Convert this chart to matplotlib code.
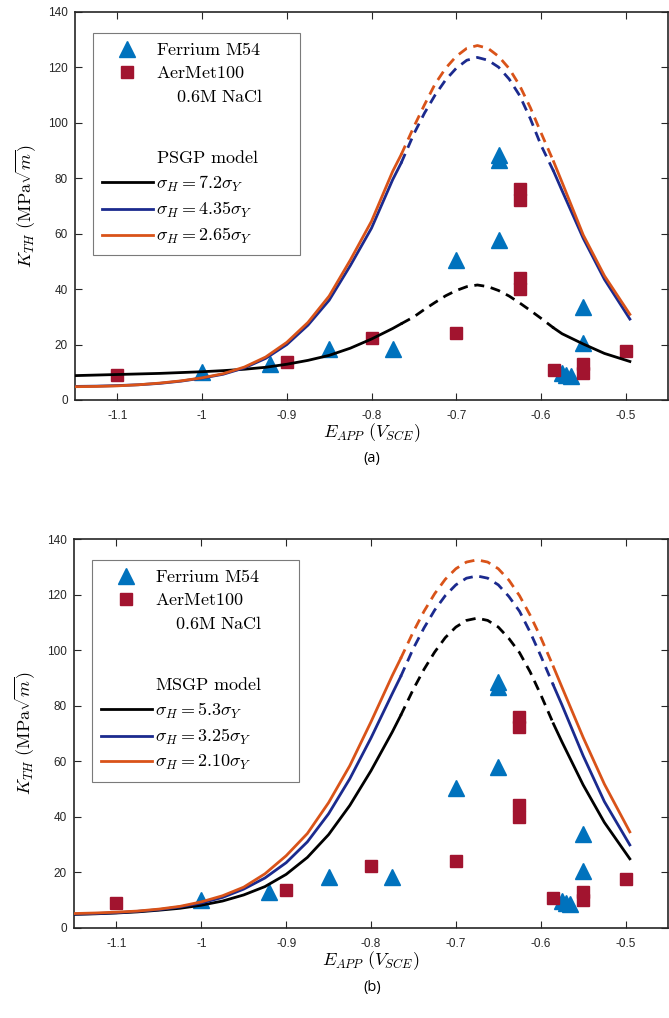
import matplotlib.pyplot as plt
from matplotlib.lines import Line2D
import numpy as np

plt.rcParams['mathtext.fontset'] = 'cm'
plt.rcParams['axes.unicode_minus'] = False
plt.rcParams['font.family'] = 'Liberation Sans'

# applied potential (V_SCE) where the model curves were read
E_model = [-1.15, -1.125, -1.1, -1.075, -1.05, -1.025, -1.0, -0.975, -0.95, -0.925,
           -0.9, -0.875, -0.85, -0.825, -0.8, -0.775, -0.765,
           -0.75, -0.7375, -0.725, -0.7125, -0.7, -0.6875, -0.675, -0.6625, -0.65,
           -0.6375, -0.625, -0.6125, -0.6, -0.585, -0.575, -0.55, -0.525, -0.495]

# PSGP model (panel a)
psgp_72 = [8.8, 9.0, 9.2, 9.4, 9.6, 9.9, 10.2, 10.6, 11.1, 11.8,
           12.9, 14.3, 16.1, 18.7, 22.0, 25.8, 27.5,
           30.0, 32.7, 35.2, 37.6, 39.5, 40.9, 41.5, 40.9, 39.5,
           37.5, 35.0, 32.3, 29.5, 26.0, 23.9, 20.2, 16.8, 13.9]
psgp_435 = [4.9, 5.0, 5.2, 5.5, 6.0, 6.8, 7.9, 9.3, 11.6, 15.0,
            20.0, 27.0, 36.0, 48.5, 62.0, 79.5, 85.5,
            96.0, 103.5, 110.0, 115.5, 119.7, 122.6, 123.6, 122.6, 120.1,
            115.8, 109.8, 101.5, 92.0, 82.5, 75.5, 58.3, 43.5, 29.2]
psgp_265 = [4.8, 4.9, 5.1, 5.5, 6.1, 6.9, 8.0, 9.5, 11.9, 15.5,
            20.8, 28.0, 37.5, 50.5, 64.5, 82.5, 88.5,
            98.6, 106.5, 114.0, 119.7, 124.0, 126.9, 127.9, 126.9, 124.0,
            119.6, 113.4, 105.5, 96.5, 86.0, 78.5, 59.5, 44.8, 30.9]

# MSGP model (panel b)
msgp_53 = [4.9, 5.1, 5.4, 5.8, 6.4, 7.1, 8.2, 9.7, 11.9, 14.9,
           19.3, 25.4, 33.6, 44.1, 56.6, 70.5, 76.5,
           86.0, 93.1, 99.3, 104.5, 108.3, 110.7, 111.5, 110.7, 108.3,
           104.2, 99.1, 92.2, 84.0, 73.5, 67.0, 51.5, 38.0, 24.9]
msgp_325 = [5.0, 5.2, 5.5, 6.0, 6.6, 7.6, 9.0, 11.0, 14.0, 18.0,
            23.5, 31.0, 41.1, 53.7, 68.4, 84.3, 90.5,
            100.7, 108.0, 114.4, 119.6, 123.5, 125.9, 126.7, 125.9, 123.5,
            119.3, 114.0, 106.5, 98.0, 87.3, 80.3, 62.0, 45.5, 29.9]
msgp_210 = [5.2, 5.4, 5.7, 6.1, 6.8, 7.8, 9.4, 11.6, 14.7, 19.5,
            26.0, 34.0, 45.1, 58.4, 74.2, 90.8, 97.0,
            106.7, 114.0, 120.3, 125.5, 129.3, 131.7, 132.5, 131.7, 129.3,
            125.2, 119.6, 112.6, 104.6, 94.0, 86.7, 68.6, 51.8, 34.6]

# experimental thresholds
ferrium_E = [-1.0, -0.92, -0.85, -0.775, -0.7, -0.65, -0.65, -0.65,
             -0.575, -0.57, -0.565, -0.55, -0.55]
ferrium_K = [10.2, 13.0, 18.3, 18.4, 50.5, 57.8, 86.6, 88.4,
             9.6, 9.0, 8.6, 20.6, 33.7]
aermet_E = [-1.1, -0.9, -0.8, -0.7, -0.625, -0.625, -0.625, -0.625,
            -0.585, -0.55, -0.55, -0.5]
aermet_K = [9.0, 13.8, 22.2, 24.0, 76.0, 72.2, 44.1, 40.0,
            10.8, 12.9, 9.9, 17.8]

xticks = [-1.1, -1.0, -0.9, -0.8, -0.7, -0.6, -0.5]
xticklabels = ['-1.1', '-1', '-0.9', '-0.8', '-0.7', '-0.6', '-0.5']
yticks = [0, 20, 40, 60, 80, 100, 120, 140]

c_black = 'black'
c_blue = '#1b2a8e'
c_orange = '#d95319'
c_tri = '#0072bd'
c_sq = '#a2142f'

E_arr = np.array(E_model)
m_left = E_arr <= -0.765
m_mid = (E_arr >= -0.765) & (E_arr <= -0.585)
m_right = E_arr >= -0.585


def draw_panel(ax, curves, model_name, panel_label, label_y):
    ax.plot(ferrium_E, ferrium_K, '^', color=c_tri, ms=11.5, mec=c_tri, zorder=2)
    ax.plot(aermet_E, aermet_K, 's', color=c_sq, ms=8.6, mec=c_sq, zorder=2)
    handles = [Line2D([], [], ls='', marker='^', color=c_tri, ms=11.5),
               Line2D([], [], ls='', marker='s', color=c_sq, ms=8.6),
               Line2D([], [], ls=''),
               Line2D([], [], ls=''),
               Line2D([], [], ls='')]
    labels = [r'$\mathrm{Ferrium\ M54}$', r'$\mathrm{AerMet100}$',
              r'$\quad\;\mathrm{0.6M\ NaCl}$', r'$\mathrm{Ag}$',
              r'$\mathrm{' + model_name + r'\ model}$']
    for K, col, lab in curves:
        K = np.array(K)
        ax.plot(E_arr[m_left], K[m_left], color=col, lw=2.0, zorder=3)
        ax.plot(E_arr[m_right], K[m_right], color=col, lw=2.0, zorder=3)
        ax.plot(E_arr[m_mid], K[m_mid], color=col, lw=2.0, dashes=(3.6, 2.4), zorder=3)
        handles.append(Line2D([], [], color=col, lw=2.0))
        labels.append(lab)

    ax.set_xlim(-1.15, -0.45)
    ax.set_ylim(0, 140)
    ax.set_xticks(xticks)
    ax.set_xticklabels(xticklabels)
    ax.set_yticks(yticks)
    ax.tick_params(direction='in', length=5, width=0.8, top=True, right=True,
                   labelsize=8.5, colors='#262626')
    ax.tick_params(axis='x', pad=7)
    ax.tick_params(axis='y', pad=5)
    for sp in ax.spines.values():
        sp.set_linewidth(1.2)
        sp.set_color('#262626')

    ax.set_xlabel(r'$E_{APP}\ (V_{SCE})$', fontsize=13, va='center')
    ax.xaxis.set_label_coords(0.5, -0.083)
    ax.set_ylabel(r'$K_{TH}\ (\mathrm{MPa}\sqrt{m})$', fontsize=13, va='center')
    ax.yaxis.set_label_coords(-0.083, 0.5)

    leg = ax.legend(handles, labels, loc='upper left',
                    bbox_to_anchor=(0.0303, 0.0, 0.3485, 0.946), mode='expand',
                    borderaxespad=0, fontsize=13, handlelength=2.8,
                    handletextpad=0.2, labelspacing=0.35, borderpad=0.5,
                    fancybox=False, framealpha=1, edgecolor='#7a7a7a')
    leg.get_frame().set_linewidth(0.8)
    # spacer row between the data entries and the model entries
    leg.get_texts()[3].set_alpha(0)
    leg.get_texts()[3].set_fontsize(22)

    fig.text(0.556, label_y, panel_label, ha='center', va='center',
             fontsize=10.5, family='Open Sans')


fig = plt.figure(figsize=(6.69, 10.18), dpi=100)
ax1 = fig.add_axes([75 / 669, 1 - 400 / 1018, 593 / 669, 388 / 1018])
ax2 = fig.add_axes([74 / 669, 1 - 928 / 1018, 594 / 669, 389 / 1018])

draw_panel(ax1, [(psgp_72, c_black, r'$\sigma_H = 7.2\sigma_Y$'),
                 (psgp_435, c_blue, r'$\sigma_H = 4.35\sigma_Y$'),
                 (psgp_265, c_orange, r'$\sigma_H = 2.65\sigma_Y$')],
           'PSGP', '(a)', 1 - 459 / 1018)
draw_panel(ax2, [(msgp_53, c_black, r'$\sigma_H = 5.3\sigma_Y$'),
                 (msgp_325, c_blue, r'$\sigma_H = 3.25\sigma_Y$'),
                 (msgp_210, c_orange, r'$\sigma_H = 2.10\sigma_Y$')],
           'MSGP', '(b)', 1 - 987 / 1018)

fig.savefig('out.png', dpi=100)
